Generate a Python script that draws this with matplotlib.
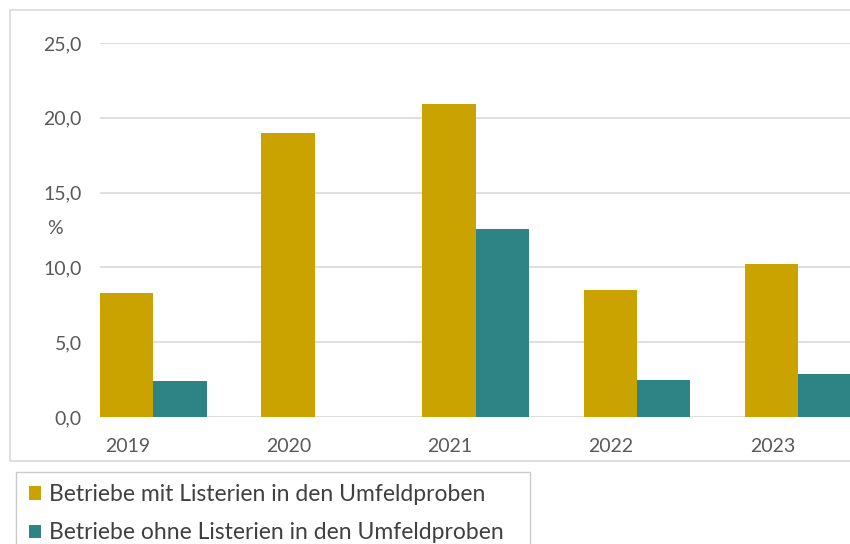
import matplotlib
matplotlib.use('Agg')
import matplotlib.pyplot as plt
import numpy as np
from matplotlib.patches import Rectangle

years = ['2019', '2020', '2021', '2022', '2023']
mit_listerien = [8.3, 19.0, 20.9, 8.5, 10.2]
ohne_listerien = [2.4, 0.0, 12.6, 2.5, 2.9]
labels = ['Betriebe mit Listerien in den Umfeldproben',
          'Betriebe ohne Listerien in den Umfeldproben']
yticks = [0, 5, 10, 15, 20, 25]

GOLD = '#CBA300'
TEAL = '#2E8385'
GRID = '#D9D9D9'
TXT = '#595959'

plt.rcParams['font.family'] = ['Lato', 'DejaVu Sans']

W, H = 850, 544
fig = plt.figure(figsize=(W / 100, H / 100), dpi=100)

# outer chart frame (cut off on the right)
fig.patches.append(Rectangle((10 / W, 1 - 461 / H), 1.0, 451 / H,
                             transform=fig.transFigure, fill=False,
                             edgecolor=GRID, linewidth=1.2))

ax = fig.add_axes([100 / W, 1 - 417 / H, 750 / W, 374 / H])

x = np.arange(len(years))
w = 0.331
ax.bar(x - w / 2, mit_listerien, w, color=GOLD, label=labels[0], zorder=3)
ax.bar(x + w / 2, ohne_listerien, w, color=TEAL, label=labels[1], zorder=3)

ax.set_ylim(0, 25)
ax.set_xlim(-w, 4 + 52 / 161.5)
ax.set_yticks(yticks)
ax.set_yticklabels([f'{v:.1f}'.replace('.', ',') for v in yticks])
ax.set_xticks(x - 0.16)
ax.set_xticklabels(years)

for s in ax.spines.values():
    s.set_visible(False)
ax.grid(axis='y', color=GRID, linewidth=1.2, zorder=0)
ax.tick_params(axis='both', length=0, labelcolor=TXT, labelsize=14)
ax.tick_params(axis='y', pad=13)
ax.tick_params(axis='x', pad=15)

ax.set_ylabel('%', rotation=0, color=TXT, fontsize=14, ha='center', va='center')
ax.yaxis.set_label_coords(-45 / 750, (417 - 228) / 374)

leg = fig.legend(loc='upper left',
                 bbox_to_anchor=(16 / W, 1 - 477 / H, 514 / W, 0.01),
                 mode='expand', fontsize=16.5, frameon=True, fancybox=False,
                 edgecolor='#BFBFBF', handlelength=0.52, handleheight=0.52,
                 handletextpad=0.36, labelspacing=0.75, borderpad=0.55,
                 borderaxespad=0)
leg.get_frame().set_linewidth(1.0)
for t in leg.get_texts():
    t.set_color('#404040')

fig.savefig('out.png', dpi=100)
